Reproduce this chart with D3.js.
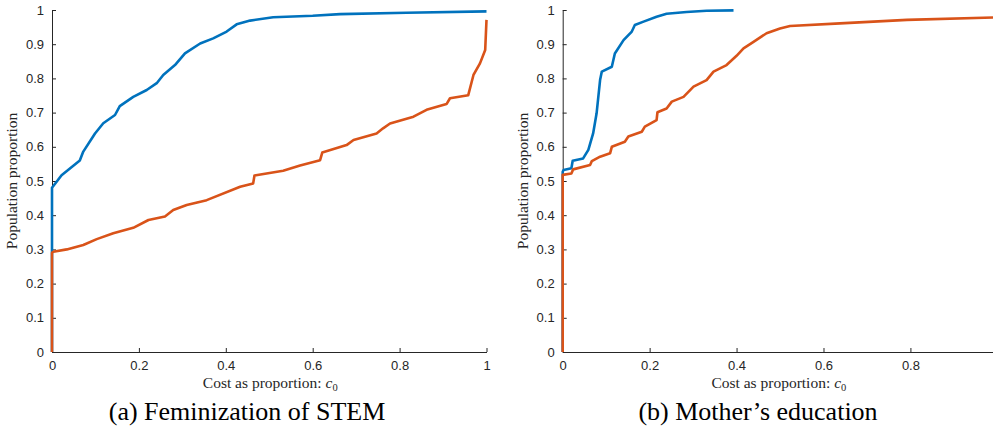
<!DOCTYPE html>
<html>
<head>
<meta charset="utf-8">
<script src="https://cdn.jsdelivr.net/npm/d3@7"></script>
<style>
  body { margin: 0; background: #fff; }
  svg { display: block; }
  .tick text { font-family: "Liberation Sans", Helvetica, Arial, sans-serif; font-size: 13px; fill: #262626; }
  .domain, .tick line { stroke: #262626; }
  .lbl { font-family: "Liberation Serif", "DejaVu Serif", serif; fill: #262626; }
  .cap { font-family: "Liberation Serif", "DejaVu Serif", serif; fill: #000; }
</style>
</head>
<body>
<div id="chart"></div>
<script>
// (a) Feminization of STEM: [cost, proportion]
const stemBlue = [
  [0, 0], [0, 0.48], [0.022, 0.517], [0.064, 0.56], [0.072, 0.586], [0.099, 0.639],
  [0.118, 0.669], [0.145, 0.693], [0.156, 0.719], [0.187, 0.746], [0.218, 0.766],
  [0.241, 0.786], [0.256, 0.81], [0.283, 0.839], [0.306, 0.873], [0.341, 0.902],
  [0.371, 0.917], [0.402, 0.937], [0.425, 0.958], [0.456, 0.969], [0.509, 0.979],
  [0.6, 0.983], [0.663, 0.988], [0.816, 0.992], [1.0, 0.996]
];
const stemOrange = [
  [0, 0], [0, 0.29], [0.003, 0.293], [0.034, 0.3], [0.072, 0.313], [0.103, 0.33],
  [0.141, 0.347], [0.187, 0.363], [0.222, 0.386], [0.26, 0.396], [0.279, 0.415],
  [0.31, 0.43], [0.356, 0.444], [0.433, 0.483], [0.463, 0.493], [0.466, 0.516],
  [0.532, 0.53], [0.571, 0.545], [0.617, 0.561], [0.622, 0.583], [0.678, 0.605],
  [0.694, 0.62], [0.747, 0.639], [0.762, 0.654], [0.778, 0.668], [0.832, 0.688],
  [0.862, 0.708], [0.908, 0.725], [0.916, 0.742], [0.958, 0.751], [0.97, 0.81],
  [0.985, 0.844], [0.997, 0.883], [1.0, 0.971]
];

// (b) Mother's education
const motherBlue = [
  [0, 0], [0, 0.527], [0.002, 0.532], [0.02, 0.537], [0.023, 0.559], [0.047, 0.566],
  [0.059, 0.591], [0.07, 0.639], [0.078, 0.698], [0.086, 0.795], [0.09, 0.82],
  [0.113, 0.834], [0.12, 0.873], [0.14, 0.912], [0.159, 0.937], [0.166, 0.956],
  [0.186, 0.966], [0.216, 0.98], [0.239, 0.989], [0.285, 0.994], [0.331, 0.998],
  [0.393, 0.999]
];
const motherOrange = [
  [0, 0], [0, 0.518], [0.02, 0.522], [0.024, 0.534], [0.063, 0.547], [0.067, 0.558],
  [0.086, 0.571], [0.109, 0.581], [0.113, 0.6], [0.143, 0.615], [0.151, 0.63],
  [0.182, 0.644], [0.189, 0.659], [0.216, 0.678], [0.218, 0.701], [0.239, 0.712],
  [0.251, 0.732], [0.278, 0.746], [0.301, 0.776], [0.331, 0.795], [0.347, 0.82],
  [0.377, 0.839], [0.4, 0.866], [0.416, 0.888], [0.439, 0.907], [0.469, 0.932],
  [0.5, 0.946], [0.523, 0.953], [0.638, 0.961], [0.792, 0.971], [0.99, 0.978]
];

const yTicks = [0, 0.1, 0.2, 0.3, 0.4, 0.5, 0.6, 0.7, 0.8, 0.9, 1];
const xTicksA = [0, 0.2, 0.4, 0.6, 0.8, 1];
const xTicksB = [0, 0.2, 0.4, 0.6, 0.8];
const captions = ['(a) Feminization of STEM', '(b) Mother\u2019s education'];

const blue = '#0072BD', orange = '#D95319';

const svg = d3.select('#chart').append('svg').attr('width', 993).attr('height', 437);

const panels = [
  {left: 52, right: 486.5, xMax: 1, xTicks: xTicksA, series: [stemBlue, stemOrange], cap: captions[0], capX: 247},
  {left: 562.7, right: 993, xMax: 0.99, xTicks: xTicksB, series: [motherBlue, motherOrange], cap: captions[1], capX: 758}
];

panels.forEach((p) => {
  const x = d3.scaleLinear().domain([0, p.xMax]).range([p.left, p.right]);
  const y = d3.scaleLinear().domain([0, 1]).range([352, 10]);
  const g = svg.append('g');

  g.append('g')
    .attr('transform', 'translate(0,352)')
    .call(d3.axisBottom(x).tickValues(p.xTicks).tickFormat(d3.format('~g')).tickSizeInner(-4).tickSizeOuter(0).tickPadding(9))
    .call((a) => a.select('.domain').attr('stroke-width', 1));

  g.append('g')
    .attr('transform', 'translate(' + p.left + ',0)')
    .call(d3.axisLeft(y).tickValues(yTicks).tickFormat(d3.format('~g')).tickSizeInner(-4).tickSizeOuter(0).tickPadding(8));

  const line = d3.line()
    .x((d) => x(d[0]))
    .y((d) => y(d[1]));

  [blue, orange].forEach((c, i) => {
    g.append('path')
      .attr('fill', 'none')
      .attr('stroke', c)
      .attr('stroke-width', 2.6)
      .attr('stroke-linejoin', 'round')
      .attr('d', line(p.series[i]));
  });

  // axis titles
  const xl = g.append('text').attr('class', 'lbl')
    .attr('x', (p.left + Math.min(p.right, p.left + 434.5)) / 2 + 1).attr('y', 388)
    .attr('text-anchor', 'middle').attr('font-size', 15.5);
  xl.append('tspan').text('Cost as proportion: ');
  xl.append('tspan').attr('font-style', 'italic').text('c');
  xl.append('tspan').attr('font-size', 10.5).attr('dy', 3).text('0');

  g.append('text').attr('class', 'lbl')
    .attr('transform', 'translate(' + (p.left - 35) + ',181) rotate(-90)')
    .attr('text-anchor', 'middle').attr('font-size', 15.5)
    .text('Population proportion');

  g.append('text').attr('class', 'cap')
    .attr('x', p.capX).attr('y', 420)
    .attr('text-anchor', 'middle').attr('font-size', 26)
    .text(p.cap);
});
</script>
</body>
</html>
